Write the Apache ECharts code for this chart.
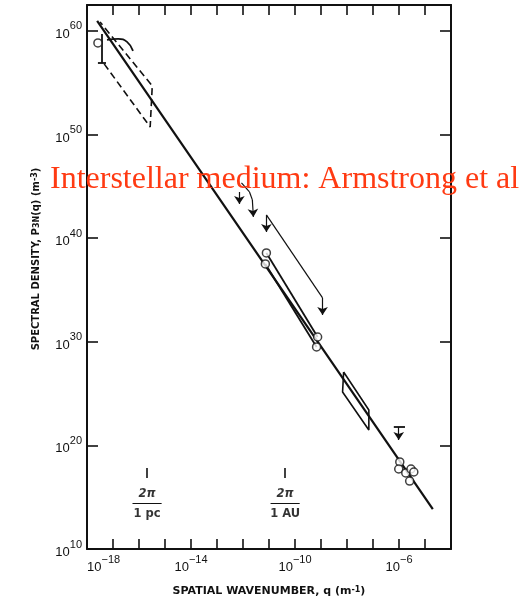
<!DOCTYPE html>
<html>
<head>
<meta charset="utf-8">
<script src="https://cdn.jsdelivr.net/npm/echarts@6/dist/echarts.min.js"></script>
<style>
  html, body { margin: 0; padding: 0; background: #fff; }
  #chart { width: 526px; height: 603px; }
</style>
</head>
<body>
<div id="chart"></div>
<script>
// Electron-density power spectrum of the interstellar medium.
// All values are base-10 exponents: q in m^-1, P3N(q) in m^-3.

const qTickLabels = [-18, -14, -10, -6];
const pTickLabels = [10, 20, 30, 40, 50, 60];

// Kolmogorov (-11/3) reference line
const fitQ = [-17.61, -4.70];
const fitP = [60.97, 13.86];

// dashed box at the largest scales
const bigBoxQ = [-17.34, -15.57, -15.49, -17.50];
const bigBoxP = [56.82, 50.73, 54.69, 60.87];

// lowest-wavenumber point with its error bar
const lowPointQ = [-17.58];
const lowPointP = [58.84];
const lowErrQ = [-17.42, -17.42];
const lowErrP = [59.71, 56.91];
const lowCapQ = [-17.58, -17.27];
const lowCapP = [56.91, 56.91];

// short curved segment near the top
const topCurveQ = [-17.23, -16.80, -16.46, -16.23];
const topCurveP = [59.13, 59.23, 58.94, 58.07];

// upper limits in the 1e-12 .. 1e-9 range
const limitAQ = [-12.14, -12.14];
const limitAP = [44.46, 43.30];
const limitBQ = [-12.06, -11.75, -11.64, -11.60];
const limitBP = [45.33, 44.46, 43.69, 42.05];
const limitCQ = [-11.10, -11.10];
const limitCP = [42.24, 40.60];
const limitDQ = [-11.10, -8.94, -8.94];
const limitDP = [42.24, 34.23, 32.59];

// scintillation points joined in pairs
const midPointsQ = [-11.10, -11.14, -9.13, -9.17];
const midPointsP = [38.57, 37.51, 30.46, 29.50];
const midUpperQ = [-11.10, -9.13];
const midUpperP = [38.57, 30.46];
const midLowerQ = [-11.14, -9.17];
const midLowerP = [37.51, 29.50];

// box near 1e-8 .. 1e-7
const smallBoxQ = [-8.13, -7.16, -7.16, -8.17, -8.13];
const smallBoxP = [27.08, 23.42, 21.49, 25.15, 27.08];

// upper limit near 1e-6
const limitTCapQ = [-6.20, -5.77];
const limitTCapP = [21.78, 21.78];
const limitTQ = [-6.01, -6.01];
const limitTP = [21.78, 20.52];

// cluster of points at the highest wavenumbers
const highPointsQ = [-5.97, -6.01, -5.74, -5.54, -5.43, -5.59];
const highPointsP = [18.40, 17.72, 17.34, 17.72, 17.43, 16.56];

// reference scales 2*pi/1pc and 2*pi/1AU
const scaleNames = ['1 pc', '1 AU'];
const scaleQ = [-15.69, -10.38];
const scaleTickP = [17.82, 16.85];
const scaleNumP = 15.31;
const scaleBarP = 14.44;
const scaleDenP = 13.38;
const scaleBarHalf = 0.56;

const zip = (xs, ys) => xs.map((x, i) => [x, ys[i]]);

const INK = '#111';
const FRAME_W = 2;

function lineSeries(coords, extra) {
  return Object.assign({
    type: 'line',
    data: coords,
    symbol: 'none',
    silent: true,
    animation: false,
    lineStyle: { color: INK, width: 1.6 },
    z: 3
  }, extra || {});
}

// straight segments drawn in data space; optional arrowhead at the far end
function segmentSeries(segments, arrow, width) {
  return {
    type: 'lines',
    coordinateSystem: 'cartesian2d',
    silent: true,
    animation: false,
    symbol: arrow ? ['none', 'arrow'] : ['none', 'none'],
    symbolSize: arrow ? [5, 8] : 0,
    lineStyle: { color: INK, width: width || 1.2, opacity: 1, curveness: 0 },
    itemStyle: { color: INK },
    data: segments.map(s => ({ coords: s })),
    z: 3
  };
}

// break polylines into their segments; the last one of each carries the arrow
function arrowPaths(paths) {
  const body = [], heads = [];
  paths.forEach(p => {
    for (let i = 0; i < p.length - 1; i++) {
      (i === p.length - 2 ? heads : body).push([p[i], p[i + 1]]);
    }
  });
  return { body, heads };
}

function circleSeries(coords) {
  return {
    type: 'scatter',
    data: coords,
    symbol: 'circle',
    symbolSize: 8,
    silent: true,
    animation: false,
    itemStyle: { color: '#fff', borderColor: INK, borderWidth: 1.5 },
    z: 5
  };
}

const scaleLabels = [];
const scaleTicks = [];
const scaleBars = [];
scaleQ.forEach((q, i) => {
  scaleLabels.push({ value: [q, scaleNumP], label: { formatter: '2π', fontStyle: 'italic' } });
  scaleLabels.push({ value: [q, scaleDenP], label: { formatter: scaleNames[i] } });
  scaleTicks.push([[q, scaleTickP[0]], [q, scaleTickP[1]]]);
  scaleBars.push([[q - scaleBarHalf, scaleBarP], [q + scaleBarHalf, scaleBarP]]);
});

const limits = arrowPaths([
  zip(limitAQ, limitAP), zip(limitBQ, limitBP), zip(limitCQ, limitCP),
  zip(limitDQ, limitDP), zip(limitTQ, limitTP)
]);

const tickFont = 'Liberation Sans';
const titleFont = 'DejaVu Sans';

const expRich = {
  b: { fontFamily: tickFont, fontSize: 13, color: INK, verticalAlign: 'bottom', lineHeight: 20 },
  s: { fontFamily: tickFont, fontSize: 11, color: INK, verticalAlign: 'top', lineHeight: 12 }
};

const frameAxisLine = { show: true, onZero: false, lineStyle: { color: INK, width: FRAME_W } };
const innerTick = (len) => ({ show: true, inside: true, length: len, lineStyle: { color: INK, width: 1.6 } });

const option = {
  backgroundColor: '#fff',
  animation: false,
  grid: { left: 87, right: 75, top: 5, bottom: 54, containLabel: false },
  xAxis: [
    {
      type: 'value', position: 'bottom', min: -18, max: -4, interval: 1,
      axisLine: frameAxisLine,
      axisTick: innerTick(10),
      splitLine: { show: false },
      axisLabel: {
        show: true, margin: 5, alignMinLabel: 'left',
        formatter: v => qTickLabels.indexOf(v) >= 0 ? '{b|10}{s|−' + Math.abs(v) + '}' : '',
        rich: expRich
      },
      name: 'SPATIAL WAVENUMBER, q (m{s|-1})',
      nameLocation: 'middle', nameGap: 37,
      nameTextStyle: {
        fontFamily: titleFont, fontSize: 11, fontWeight: 'bold', color: INK,
        rich: { s: { fontFamily: titleFont, fontSize: 8, fontWeight: 'bold', color: INK, verticalAlign: 'top', lineHeight: 8 } }
      }
    },
    {
      type: 'value', position: 'top', min: -18, max: -4, interval: 1,
      axisLine: frameAxisLine,
      axisTick: innerTick(10),
      splitLine: { show: false },
      axisLabel: { show: false }
    }
  ],
  yAxis: [
    {
      type: 'value', position: 'left', min: 10, max: 62.5, interval: 10,
      axisLine: frameAxisLine,
      axisTick: innerTick(11),
      splitLine: { show: false },
      axisLabel: {
        show: true, margin: 5,
        formatter: v => pTickLabels.indexOf(v) >= 0 ? '{b|10}{s|' + v + '}' : '',
        rich: expRich
      },
      name: 'SPECTRAL DENSITY, P{d|3N}(q) (m{s|-3})',
      nameLocation: 'middle', nameRotate: 90, nameGap: 46,
      nameTextStyle: {
        fontFamily: titleFont, fontSize: 10, fontWeight: 'bold', color: INK,
        padding: [0, 0, 0, 36],
        rich: {
          s: { fontFamily: titleFont, fontSize: 8, fontWeight: 'bold', color: INK, verticalAlign: 'top', lineHeight: 8 },
          d: { fontFamily: titleFont, fontSize: 8, fontWeight: 'bold', color: INK, verticalAlign: 'bottom', lineHeight: 8 }
        }
      }
    },
    {
      type: 'value', position: 'right', min: 10, max: 62.5, interval: 10,
      axisLine: frameAxisLine,
      axisTick: innerTick(11),
      splitLine: { show: false },
      axisLabel: { show: false }
    }
  ],
  series: [
    lineSeries(zip(fitQ, fitP), { lineStyle: { color: INK, width: 2.2 } }),
    lineSeries(zip(bigBoxQ, bigBoxP), { lineStyle: { color: INK, width: 1.6, type: [7, 4] } }),
    lineSeries(zip(topCurveQ, topCurveP), { smooth: 0.5, lineStyle: { color: INK, width: 1.8 } }),
    lineSeries(zip(smallBoxQ, smallBoxP), { lineStyle: { color: INK, width: 1.6 } }),
    segmentSeries([zip(lowErrQ, lowErrP), zip(lowCapQ, lowCapP), zip(limitTCapQ, limitTCapP)], false, 1.8),
    segmentSeries([zip(midUpperQ, midUpperP), zip(midLowerQ, midLowerP)], false, 1.8),
    segmentSeries(limits.body, false, 1.2),
    segmentSeries(limits.heads, true, 1.2),
    segmentSeries(scaleTicks, false, 1.6),
    segmentSeries(scaleBars, false, 1.2),
    circleSeries(zip(lowPointQ, lowPointP)),
    circleSeries(zip(midPointsQ, midPointsP)),
    circleSeries(zip(highPointsQ, highPointsP)),
    {
      type: 'scatter',
      data: scaleLabels,
      symbolSize: 0,
      itemStyle: { color: 'rgba(0,0,0,0)' },
      silent: true,
      animation: false,
      label: {
        show: true, position: [0, 0], align: 'center', verticalAlign: 'middle',
        color: '#000', fontFamily: titleFont, fontSize: 11.5, fontWeight: 'bold'
      },
      z: 6
    }
  ],
  graphic: [
    {
      type: 'text', left: 50, top: 164, z: 100,
      style: {
        text: 'Interstellar medium: Armstrong et al',
        fontFamily: 'Liberation Serif', fontSize: 32,
        fill: '#ff3a12'
      }
    }
  ]
};

const chart = echarts.init(document.getElementById('chart'), null, { renderer: 'canvas' });
chart.setOption(option);
</script>
</body>
</html>
